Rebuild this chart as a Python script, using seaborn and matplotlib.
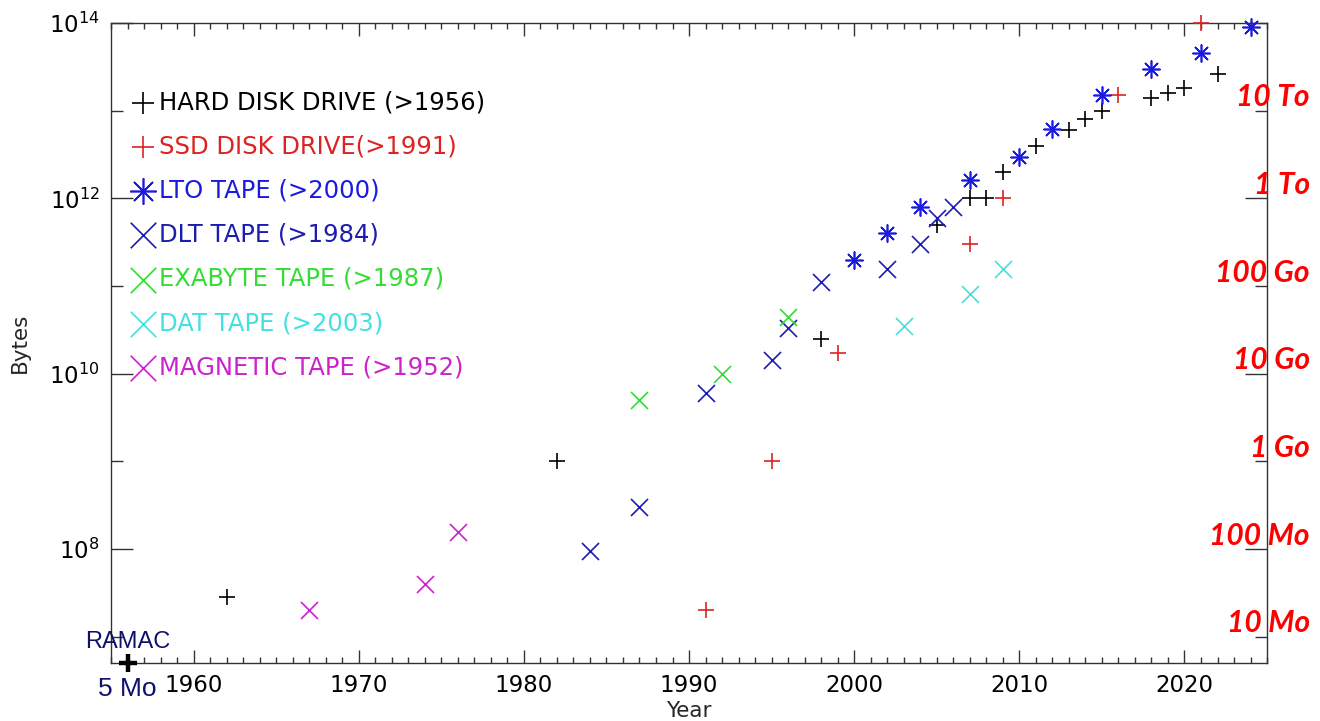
import matplotlib
matplotlib.use("Agg")
import matplotlib.pyplot as plt
import matplotlib.ticker as mticker
import matplotlib.transforms as mtransforms
import seaborn as sns

# capacity per year (bytes)
hdd_years = [1962, 1982, 1998, 2005, 2007, 2008, 2009, 2011, 2013, 2014, 2015, 2018, 2019, 2020, 2022]
hdd_bytes = [2.8e7, 1e9, 2.5e10, 5e11, 1e12, 1e12, 2e12, 4e12, 6e12, 8e12, 1e13, 1.4e13, 1.6e13, 1.8e13, 2.6e13]

ssd_years = [1991, 1995, 1999, 2007, 2009, 2016, 2021]
ssd_bytes = [2e7, 1e9, 1.7e10, 3e11, 1e12, 1.5e13, 1e14]

lto_years = [2000, 2002, 2004, 2007, 2010, 2012, 2015, 2018, 2021, 2024]
lto_bytes = [2e11, 4e11, 8e11, 1.6e12, 3e12, 6.2e12, 1.5e13, 3e13, 4.6e13, 9e13]

dlt_years = [1984, 1987, 1991, 1995, 1996, 1998, 2002, 2004, 2005, 2006]
dlt_bytes = [9.5e7, 3e8, 6e9, 1.45e10, 3.3e10, 1.1e11, 1.55e11, 3e11, 6e11, 8e11]

exa_years = [1987, 1992, 1996]
exa_bytes = [5e9, 1e10, 4.4e10]

dat_years = [2003, 2007, 2009]
dat_bytes = [3.5e10, 8e10, 1.55e11]

mag_years = [1967, 1974, 1976]
mag_bytes = [2e7, 4e7, 1.55e8]

ramac_year = [1956]
ramac_bytes = [5e6]

series_labels = ["HARD DISK DRIVE (>1956)", "SSD DISK DRIVE(>1991)", "LTO TAPE (>2000)",
                 "DLT TAPE (>1984)", "EXABYTE TAPE (>1987)", "DAT TAPE (>2003)",
                 "MAGNETIC TAPE (>1952)"]

right_values = [1e7, 1e8, 1e9, 1e10, 1e11, 1e12, 1e13]
right_labels = ["10 Mo", "100 Mo", "1 Go", "10 Go", "100 Go", "1 To", "10 To"]

sns.set_style("ticks")
plt.rcParams["font.family"] = ["DejaVu Sans"]

fig = plt.figure(figsize=(13.2, 7.21), dpi=100)
ax = fig.add_axes([0.0841, 0.0804, 0.8758, 0.8877])

asterisk = (8, 2, 0)
series = [
    (hdd_years, hdd_bytes, "+", "#000000", 120),
    (ssd_years, ssd_bytes, "+", "#dd2222", 120),
    (lto_years, lto_bytes, asterisk, "#1a1ae0", 150),
    (dlt_years, dlt_bytes, "x", "#1c1cb0", 150),
    (exa_years, exa_bytes, "x", "#33dd33", 150),
    (dat_years, dat_bytes, "x", "#44e0e0", 150),
    (mag_years, mag_bytes, "x", "#cc22cc", 150),
]
colors = []
for (xs, ys, mk, col, size), lab in zip(series, series_labels):
    sns.scatterplot(x=xs, y=ys, marker=mk, color=col, s=size, linewidth=1.2,
                    label=lab, ax=ax, clip_on=False, zorder=3)
    colors.append(col)

# first drive, drawn bold
sns.scatterplot(x=ramac_year, y=ramac_bytes, marker="+", color="black", s=160,
                linewidth=3.2, ax=ax, clip_on=False, zorder=4)

ax.set_yscale("log")
ax.set_xlim(1955, 2025)
ax.set_ylim(5e6, 1e14)

ax.xaxis.set_major_locator(mticker.MultipleLocator(10))
ax.xaxis.set_minor_locator(mticker.MultipleLocator(1))
ax.yaxis.set_major_locator(mticker.FixedLocator([1e8, 1e10, 1e12, 1e14]))
ax.yaxis.set_minor_locator(mticker.FixedLocator([1e7, 1e9, 1e11, 1e13]))
ax.yaxis.set_minor_formatter(mticker.NullFormatter())

ax.tick_params(which="both", direction="in", top=True, right=True, color="#333333",
               width=1.0, labelsize=16.5, labelcolor="black")
ax.tick_params(axis="x", which="major", length=9.5, pad=8)
ax.tick_params(axis="x", which="minor", length=4.5)
ax.tick_params(axis="y", which="major", length=16, pad=8)
ax.tick_params(axis="y", which="minor", length=8.5)
for sp in ax.spines.values():
    sp.set_color("#333333")
    sp.set_linewidth(1.0)

ax.set_xlabel("Year", fontsize=15.5, labelpad=3)
ax.set_ylabel("Bytes", fontsize=15.5, labelpad=14)

leg = ax.legend(loc="upper left", bbox_to_anchor=(0.017, 0.895), frameon=False,
                fontsize=17.5, markerscale=1.5, handlelength=1.0, handletextpad=0.15,
                labelspacing=0.83, borderpad=0, borderaxespad=0, labelcolor=colors)

ax.annotate("RAMAC", xy=(ramac_year[0], ramac_bytes[0]), xytext=(0, 15),
            textcoords="offset points", ha="center", va="center",
            fontsize=17, color="#10106a", family="Liberation Sans", annotation_clip=False)
ax.annotate("5 Mo", xy=(ramac_year[0], ramac_bytes[0]), xytext=(0, -19),
            textcoords="offset points", ha="center", va="center",
            fontsize=19, color="#10106a", family="Liberation Sans", annotation_clip=False)

trans = mtransforms.blended_transform_factory(ax.transAxes, ax.transData)
for val, lab in zip(right_values, right_labels):
    ax.annotate(lab, xy=(1.037, val), xycoords=trans, xytext=(0, 3),
                textcoords="offset points", ha="right", va="baseline",
                fontsize=21.5, color="#ff0000", family="Lato",
                fontweight="bold", fontstyle="italic", annotation_clip=False)

fig.savefig("out.png", dpi=100)
